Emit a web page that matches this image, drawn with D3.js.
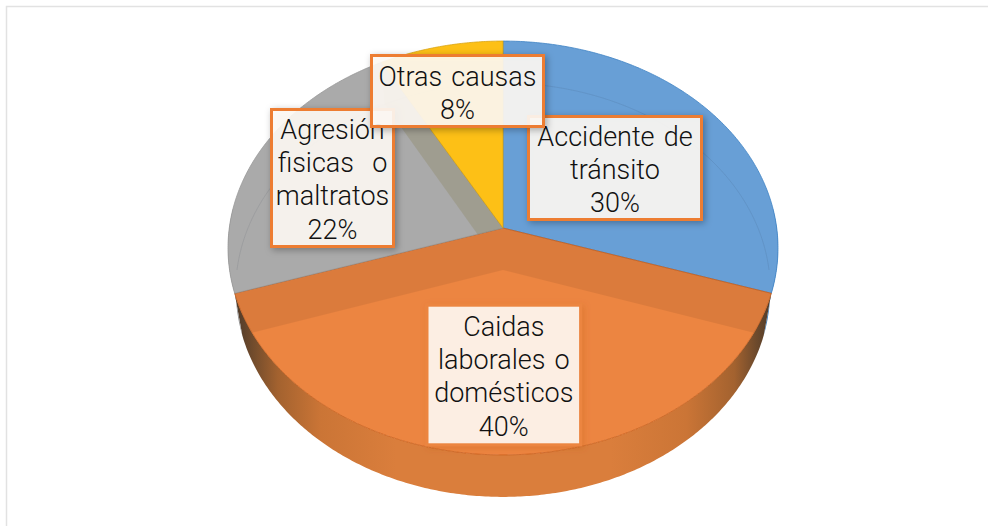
<!DOCTYPE html>
<html>
<head>
<meta charset="utf-8">
<script src="https://cdn.jsdelivr.net/npm/d3@7"></script>
<style>
html, body { margin: 0; padding: 0; background: #fff; overflow: hidden; }
text { font-family: Roboto, "Liberation Sans", sans-serif; font-weight: 300; font-size: 27px; word-spacing: 2.5px; fill: #111; white-space: pre; }
</style>
</head>
<body>
<div id="chart"></div>
<script>
// Chart data
var categories = ["Accidente de tránsito", "Caidas laborales o domésticos", "Agresión fisicas o maltratos", "Otras causas"];
var values = [30, 40, 22, 8];
var labelLines = [
    ["Accidente de", "tránsito", "30%"],
    ["Caidas", "laborales o", "domésticos", "40%"],
    ["Agresión", "fisicas  o", "maltratos", "22%"],
    ["Otras causas", "8%"]
];

// Colors for each slice
var topColors = ["#689fd6", "#ec8541", "#aaaaaa", "#fdc016"];
var edgeColors = ["#3f83c4", "#c9601c", "#989898", "#d9a514"];
var wallColors = ["#3f7fbd", "url(#wallGrad)", "#8d8d8d", "#c99a10"];

var svgWidth = 988;
var svgHeight = 526;

var svg = d3.select("#chart").append("svg")
    .attr("width", svgWidth)
    .attr("height", svgHeight)
    .style("display", "block");

// Perspective settings of the disc, top face and bottom face
var centerX = 503;
var persp = 0.0966;
var topFace = { cy: 228, a: 273.7, b: 205 };
var bottomFace = { cy: 270, a: 266, b: 205 };

// Project an angle (0 = far side, clockwise) on to a face
function project(face, angle) {
    var u = Math.sin(angle), v = Math.cos(angle), w = 1 + persp * v;
    return [centerX + face.a * u / w, face.cy - face.b * v / w];
}

function rim(face, a0, a1) {
    var n = Math.max(2, Math.ceil(Math.abs(a1 - a0) / 0.01));
    return d3.range(n + 1).map(function(i) {
        return project(face, a0 + (a1 - a0) * i / n);
    });
}

function slicePath(d) {
    return d3.line()([[centerX, topFace.cy]].concat(rim(topFace, d.startAngle, d.endAngle))) + "Z";
}

var line = d3.line();

var pie = d3.pie().sort(null).startAngle(0).endAngle(2 * Math.PI);
var slices = pie(values);

var defs = svg.append("defs");

// Side wall gradient, dark at both ends
var grad = defs.append("linearGradient")
    .attr("id", "wallGrad")
    .attr("gradientUnits", "userSpaceOnUse")
    .attr("x1", 235).attr("x2", 772).attr("y1", 0).attr("y2", 0);
[[0, "#4d3a2a"], [0.03, "#6e4a2c"], [0.08, "#a3622f"], [0.16, "#cb7536"], [0.3, "#da7e3c"], [0.7, "#da7e3c"], [0.84, "#cb7536"], [0.93, "#a3622f"], [0.97, "#6e4a2c"], [1, "#4d3a2a"]]
    .forEach(function(s) {
        grad.append("stop").attr("offset", s[0]).attr("stop-color", s[1]);
    });

var shadow = defs.append("filter")
    .attr("id", "boxShadow")
    .attr("x", "-15%").attr("y", "-15%")
    .attr("width", "130%").attr("height", "130%");
shadow.append("feDropShadow")
    .attr("dx", 2).attr("dy", 2)
    .attr("stdDeviation", 3.5)
    .attr("flood-color", "#000")
    .attr("flood-opacity", 0.32);

var softShadow = defs.append("filter")
    .attr("id", "softShadow")
    .attr("x", "-15%").attr("y", "-15%")
    .attr("width", "130%").attr("height", "130%");
softShadow.append("feDropShadow")
    .attr("dx", 2).attr("dy", 2)
    .attr("stdDeviation", 3)
    .attr("flood-color", "#b5500f")
    .attr("flood-opacity", 0.25);

defs.append("clipPath").attr("id", "topClip")
    .append("path")
    .attr("d", line(rim(topFace, 0, 2 * Math.PI)) + "Z");

slices.forEach(function(d, i) {
    defs.append("clipPath").attr("id", "sliceClip" + i)
        .append("path")
        .attr("d", slicePath(d));
});

// Page frame
svg.append("path")
    .attr("d", "M6.5,526V6.5H988")
    .attr("fill", "none")
    .attr("stroke", "#e2e2e2")
    .attr("stroke-width", 1.5);

// Side walls
var wallGroup = svg.append("g");
slices.forEach(function(d, i) {
    var a0 = Math.max(d.startAngle, Math.PI / 2 - 0.1);
    var a1 = Math.min(d.endAngle, 3 * Math.PI / 2 + 0.1);
    if (a1 <= a0) return;
    var pts = rim(topFace, a0, a1).concat(rim(bottomFace, a1, a0));
    wallGroup.append("path")
        .attr("d", line(pts) + "Z")
        .attr("fill", wallColors[i]);
});

// Top face
var topGroup = svg.append("g");
slices.forEach(function(d, i) {
    topGroup.append("path")
        .attr("d", slicePath(d))
        .attr("fill", topColors[i])
        .attr("stroke", edgeColors[i])
        .attr("stroke-width", 0.8);
});

// Inner walls showing through the top face, each one stays inside its slice
function innerWall(sliceIndex, angle, fill) {
    var quad = [[centerX, topFace.cy], project(topFace, angle), project(bottomFace, angle), [centerX, bottomFace.cy]];
    svg.append("g")
        .attr("clip-path", "url(#sliceClip" + sliceIndex + ")")
        .append("path")
        .attr("d", line(quad) + "Z")
        .attr("fill", fill);
}
innerWall(1, slices[1].startAngle, "rgba(0,0,0,0.07)");
innerWall(1, slices[1].endAngle, "rgba(0,0,0,0.07)");
innerWall(2, slices[3].startAngle, "rgba(100,90,0,0.15)");

// Far rim of the bottom face, faint through the top face
svg.append("g")
    .attr("clip-path", "url(#topClip)")
    .append("path")
    .attr("d", line(rim(bottomFace, -Math.PI / 2, Math.PI / 2)))
    .attr("fill", "none")
    .attr("stroke", "rgba(50,60,80,0.1)")
    .attr("stroke-width", 1);

// Label boxes: position of each box, same order as categories
var labelBoxes = [
    { x: 528.5, y: 116.5, w: 173, h: 103, first: 137, stroke: "#ed7d31", filter: "boxShadow" },
    { x: 427, y: 305.2, w: 153.6, h: 139.6, first: 327, stroke: "#ec8541", filter: "softShadow" },
    { x: 271.5, y: 109.5, w: 122, h: 137, first: 130, stroke: "#ed7d31", filter: "boxShadow" },
    { x: 371.5, y: 55.5, w: 172, h: 71, first: 77, stroke: "#ed7d31", filter: "boxShadow" }
];
var lineGap = 33.2;

// Otras causas is drawn last, it sits on top of its neighbours
var labelGroup = svg.append("g");
[1, 2, 0, 3].forEach(function(i) {
    var box = labelBoxes[i];
    var g = labelGroup.append("g").attr("aria-label", categories[i]);
    g.append("rect")
        .attr("x", box.x).attr("y", box.y)
        .attr("width", box.w).attr("height", box.h)
        .attr("fill", "rgba(255,251,245,0.89)")
        .attr("stroke", box.stroke)
        .attr("stroke-width", 3)
        .attr("filter", "url(#" + box.filter + ")");
    g.selectAll("text")
        .data(labelLines[i])
        .enter()
        .append("text")
        .attr("x", box.x + box.w / 2)
        .attr("y", function(d, j) { return box.first + j * lineGap; })
        .attr("text-anchor", "middle")
        .attr("dominant-baseline", "central")
        .text(function(d) { return d; });
});
</script>
</body>
</html>
